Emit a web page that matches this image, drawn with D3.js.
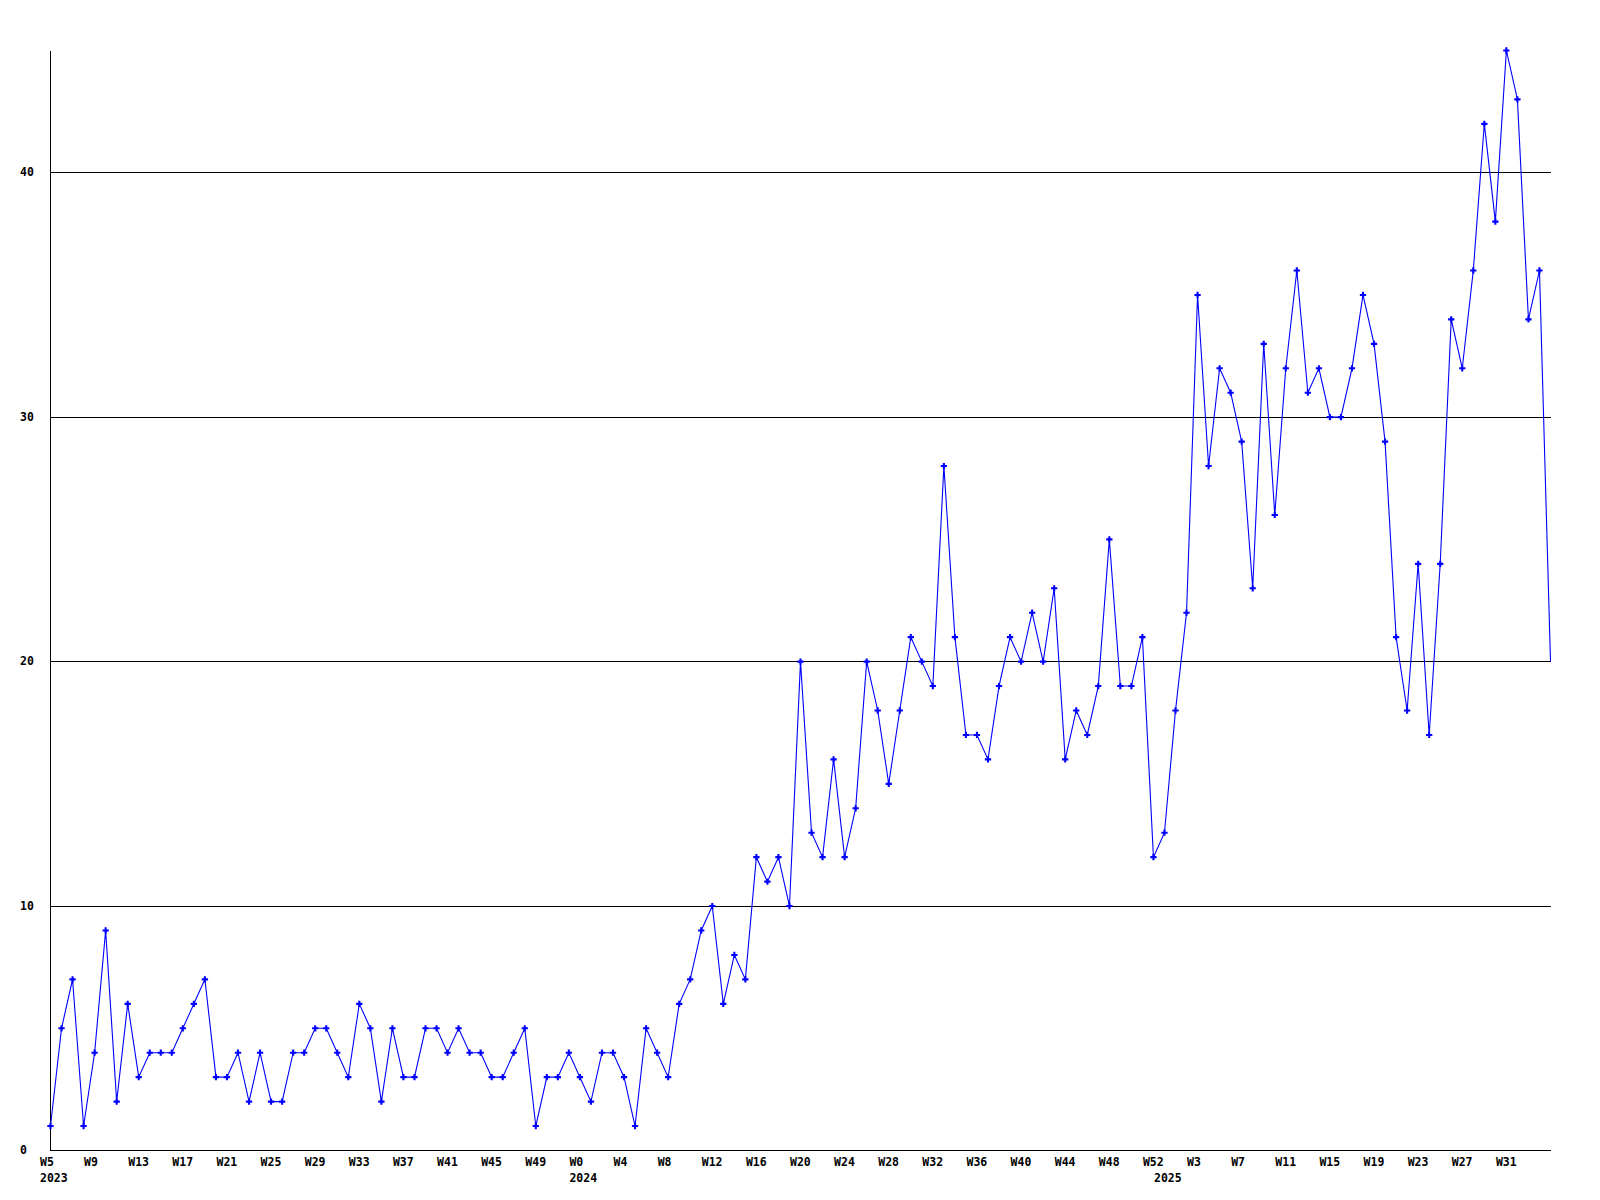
<!DOCTYPE html>
<html>
<head>
<meta charset="utf-8">
<script src="https://cdn.jsdelivr.net/npm/d3@7"></script>
<style>
  html, body { margin: 0; padding: 0; background: #ffffff; }
  svg { display: block; }
  text { font-family: "DejaVu Sans Mono", "Liberation Mono", monospace; font-weight: bold; font-size: 11.5px; fill: #000; }
</style>
</head>
<body>
<svg id="chart" width="1600" height="1200"></svg>
<script>
// ---- data ----
const years = ["2023", "2024", "2025"];
const weeks2023 = ["W5","W6","W7","W8","W9","W10","W11","W12","W13","W14","W15","W16","W17","W18","W19","W20","W21","W22","W23","W24","W25","W26","W27","W28","W29","W30","W31","W32","W33","W34","W35","W36","W37","W38","W39","W40","W41","W42","W43","W44","W45","W46","W47","W48","W49","W50","W51","W52"];
const weeks2024 = ["W0","W1","W2","W3","W4","W5","W6","W7","W8","W9","W10","W11","W12","W13","W14","W15","W16","W17","W18","W19","W20","W21","W22","W23","W24","W25","W26","W27","W28","W29","W30","W31","W32","W33","W34","W35","W36","W37","W38","W39","W40","W41","W42","W43","W44","W45","W46","W47","W48","W49","W50","W51","W52"];
const weeks2025 = ["W0","W1","W2","W3","W4","W5","W6","W7","W8","W9","W10","W11","W12","W13","W14","W15","W16","W17","W18","W19","W20","W21","W22","W23","W24","W25","W26","W27","W28","W29","W30","W31","W32","W33","W34","W35"];
const values = [
  1,5,7,1,4,9,2,6,3,4,4,4,5,6,7,3,3,4,2,4,2,2,4,4,5,5,4,3,6,5,2,5,3,3,5,5,4,5,
  4,4,3,3,4,5,1,3,3,4,
  3,2,4,4,3,1,5,4,3,6,7,9,10,6,8,7,12,11,12,10,
  20,13,12,16,12,14,20,18,15,18,21,20,19,28,21,17,17,16,19,21,
  20,22,20,23,16,18,17,19,25,19,19,21,12,
  13,18,22,35,28,32,31,29,23,33,26,32,36,31,32,30,30,32,35,33,
  29,21,18,24,17,24,34,32,36,42,38,45,43,34,36,20
];
const yTicks = [0, 10, 20, 30, 40];
const gridValues = [10, 20, 30, 40];
const yMax = 45;
const tickStep = 4;

// build table
const rows = [];
[weeks2023, weeks2024, weeks2025].forEach((wk, yi) => {
  wk.forEach((w, j) => rows.push({ year: years[yi], week: w, first: j === 0 }));
});
rows.forEach((r, i) => { r.i = i; r.value = values[i]; });

// ---- layout ----
const svg = d3.select("#chart");
const mLeft = 50.5, mRight = 1550.5, mTop = 50.5, mBottom = 1150.5;

const x = d3.scaleLinear().domain([0, rows.length - 1]).range([mLeft, mRight]);
const y = d3.scaleLinear().domain([0, yMax]).range([mBottom, mTop]);
const snap = v => Math.round(v - 0.5) + 0.5;

// grid lines
const grid = svg.append("g")
  .attr("transform", `translate(${mLeft},0)`)
  .call(d3.axisLeft(y).tickValues(gridValues).tickSize(-(mRight - mLeft)).tickFormat(""));
grid.select(".domain").remove();
grid.selectAll(".tick").attr("transform", d => `translate(0,${snap(y(d))})`);
grid.selectAll(".tick line").attr("stroke", "#000").attr("stroke-width", 1).attr("shape-rendering", "crispEdges");

// y axis labels
const yAxis = svg.append("g")
  .attr("transform", `translate(${mLeft},0)`)
  .call(d3.axisLeft(y).tickValues(yTicks).tickSize(0).tickFormat(d3.format("d")));
yAxis.select(".domain").remove();
yAxis.attr("font-family", null).attr("font-size", null);
yAxis.selectAll(".tick").attr("transform", d => `translate(0,${snap(y(d))})`);
yAxis.selectAll(".tick text")
  .attr("text-anchor", "start")
  .attr("x", 20 - mLeft)
  .attr("dy", null)
  .attr("y", 3.5);

// axis lines
svg.append("line").attr("x1", mLeft).attr("x2", mLeft).attr("y1", mTop).attr("y2", mBottom)
  .attr("stroke", "#000").attr("shape-rendering", "crispEdges");
svg.append("line").attr("x1", mLeft).attr("x2", mRight).attr("y1", mBottom).attr("y2", mBottom)
  .attr("stroke", "#000").attr("shape-rendering", "crispEdges");

// x axis: week labels every 4 points (none at the final, partial point)
const tickIdx = rows.filter(r => r.i % tickStep === 0 && r.i < rows.length - 1).map(r => r.i);
const xAxis = svg.append("g")
  .attr("transform", `translate(0,${mBottom})`)
  .call(d3.axisBottom(x).tickValues(tickIdx).tickSize(0).tickFormat(i => rows[i].week));
xAxis.select(".domain").remove();
xAxis.attr("font-family", null).attr("font-size", null);
xAxis.selectAll(".tick text")
  .attr("text-anchor", "start").attr("dx", -11).attr("dy", null).attr("y", 15);

// x axis: year labels at first week of each year
const yearIdx = rows.filter(r => r.first).map(r => r.i);
const yearAxis = svg.append("g")
  .attr("transform", `translate(0,${mBottom})`)
  .call(d3.axisBottom(x).tickValues(yearIdx).tickSize(0).tickFormat(i => rows[i].year));
yearAxis.select(".domain").remove();
yearAxis.attr("font-family", null).attr("font-size", null);
yearAxis.selectAll(".tick text")
  .attr("text-anchor", "start").attr("dx", -11).attr("dy", null).attr("y", 31);

// series line
const line = d3.line().x(d => x(d.i)).y(d => y(d.value));
svg.append("path").datum(rows)
  .attr("d", line)
  .attr("fill", "none")
  .attr("stroke", "#0000ff")
  .attr("stroke-width", 1.1);

// markers (last, partial point drawn without marker)
svg.append("g").selectAll("path")
  .data(rows.slice(0, rows.length - 1))
  .join("path")
  .attr("transform", d => `translate(${x(d.i)},${y(d.value)})`)
  .attr("d", d3.symbol(d3.symbolCross, 22))
  .attr("fill", "#0000ff");
</script>
</body>
</html>
